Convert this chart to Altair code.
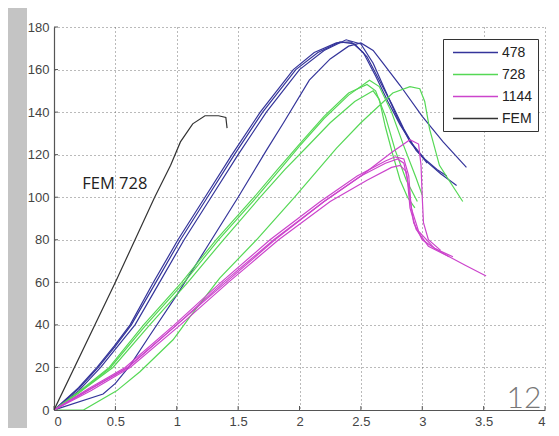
import altair as alt
import pandas as pd

# ---- data ----
b1_x = [0, 0.2, 0.36, 0.5, 0.63, 0.83, 1.03, 1.25, 1.47, 1.7, 1.97, 2.15, 2.33, 2.45, 2.55, 2.65, 2.75, 2.85, 2.95, 3.05, 3.15, 3.28]
b1_y = [0, 10, 20, 30, 40, 60, 80, 100, 120, 140, 160, 168, 173, 172, 166, 155, 144, 132, 122, 116, 111, 105.5]
b2_x = [0, 0.2, 0.38, 0.52, 0.66, 0.86, 1.06, 1.28, 1.5, 1.73, 2.0, 2.2, 2.38, 2.5, 2.6, 2.7, 2.8, 2.9, 3.04]
b2_y = [0, 9, 20, 30, 40, 60, 80, 100, 120, 140, 160, 169, 174, 172, 163, 150, 137, 126, 116]
b3_x = [0, 0.2, 0.35, 0.49, 0.62, 0.81, 1.01, 1.23, 1.45, 1.68, 1.95, 2.12, 2.3, 2.42, 2.52, 2.62, 2.72, 2.82, 2.92, 3.02, 3.12, 3.2]
b3_y = [0, 10.5, 20, 30, 40, 60, 80, 100, 120, 140, 160, 168, 172.5, 173, 168, 157, 145, 134, 125, 118, 113, 110]
b4_x = [0, 0.4, 0.5, 0.62, 0.78, 1.0, 1.24, 1.5, 1.73, 1.87, 2.08, 2.25, 2.4, 2.5, 2.6, 2.68, 2.82, 3.0, 3.17, 3.36]
b4_y = [0, 7.5, 12.5, 21, 35, 54, 76, 100, 122, 135, 155, 165, 171, 172.5, 169, 163, 152.5, 138, 126, 114]

g1_x = [0, 0.2, 0.46, 0.75, 1.06, 1.34, 1.65, 1.84, 2.0, 2.2, 2.4, 2.57, 2.65, 2.75, 2.85, 2.95, 3.0]
g1_y = [0, 8, 20, 40, 60, 80, 100, 113, 124, 137, 148, 155, 152, 140, 124, 109, 101]
g2_x = [0, 0.2, 0.45, 0.73, 1.04, 1.32, 1.63, 1.82, 2.0, 2.2, 2.4, 2.55, 2.62, 2.7, 2.78, 2.87, 2.96]
g2_y = [0, 8.5, 20, 40, 60, 80, 100, 113, 125, 138, 149, 153, 150, 138, 122, 108, 98]
g3_x = [0, 0.2, 0.48, 0.78, 1.09, 1.38, 1.68, 1.88, 2.05, 2.25, 2.45, 2.6, 2.65, 2.7, 2.76, 2.82, 2.88, 2.94]
g3_y = [0, 8, 20, 40, 60, 80, 100, 113, 123, 135, 145, 150, 146, 133, 120, 108, 100, 95]
g4_x = [0, 0.24, 0.51, 0.70, 0.97, 1.11, 1.35, 1.65, 1.96, 2.3, 2.5, 2.76, 2.9, 2.98, 3.02, 3.06, 3.14, 3.24, 3.33]
g4_y = [0, 0, 9, 18, 33, 44, 62, 80, 100, 123, 135, 149, 152, 151, 145, 132, 115, 106, 98]

m1_x = [0, 0.3, 0.6, 1.0, 1.38, 1.79, 2.2, 2.5, 2.7, 2.8, 2.85, 2.88, 2.9, 2.95, 3.05, 3.22, 3.35, 3.52]
m1_y = [0, 10, 20, 40, 60, 80, 98, 110, 116, 118, 116, 108, 95, 85, 77, 72, 68, 63]
m2_x = [0, 0.3, 0.62, 1.03, 1.42, 1.83, 2.25, 2.55, 2.75, 2.82, 2.87, 2.9, 2.93, 3.0, 3.1, 3.22]
m2_y = [0, 9, 20, 40, 60, 80, 98, 108, 114, 115, 112, 100, 88, 80, 76, 72]
m3_x = [0, 0.28, 0.58, 0.98, 1.36, 1.76, 2.17, 2.47, 2.7, 2.78, 2.85, 2.89, 2.91, 2.97, 3.1, 3.25]
m3_y = [0, 10, 20, 40, 60, 80, 98, 110, 117, 119, 118, 110, 95, 84, 76, 72]
m4_x = [0, 0.6, 1.0, 1.4, 1.8, 2.2, 2.5, 2.75, 2.9, 2.97, 2.99, 3.0, 3.01, 3.05, 3.15]
m4_y = [0, 20, 40, 60, 80, 98, 110, 121, 127, 125, 115, 100, 88, 80, 75]

fem_x = [0, 0.5, 0.82, 0.95, 1.03, 1.13, 1.23, 1.34, 1.40, 1.41]
fem_y = [0, 60, 100, 115, 126, 134.5, 138.3, 138.3, 137.5, 132.5]

series_names = ["478", "728", "1144", "FEM"]
series_colors = ["#34349a", "#55d855", "#cc44cc", "#333333"]

curves = [
    ("478", "b1", b1_x, b1_y), ("478", "b2", b2_x, b2_y),
    ("478", "b3", b3_x, b3_y), ("478", "b4", b4_x, b4_y),
    ("728", "g1", g1_x, g1_y), ("728", "g2", g2_x, g2_y),
    ("728", "g3", g3_x, g3_y), ("728", "g4", g4_x, g4_y),
    ("1144", "m1", m1_x, m1_y), ("1144", "m2", m2_x, m2_y),
    ("1144", "m3", m3_x, m3_y), ("1144", "m4", m4_x, m4_y),
    ("FEM", "fem", fem_x, fem_y),
]

rows = []
for grp, cid, xs_, ys_ in curves:
    for i, (x, y) in enumerate(zip(xs_, ys_)):
        rows.append({"series": grp, "curve": cid, "i": i, "x": x, "y": y})
df = pd.DataFrame(rows)

x_ticks = [0, 0.5, 1, 1.5, 2, 2.5, 3, 3.5, 4]
y_ticks = [0, 20, 40, 60, 80, 100, 120, 140, 160, 180]

xs = alt.Scale(domain=[0, 4], nice=False)
ys = alt.Scale(domain=[0, 180], nice=False)

# grey slide strip at the left edge (decoration outside the axes)
strip = alt.Chart(pd.DataFrame({"a": [0]})).mark_rect(color="#c4c4c4").encode(
    x=alt.value(-60), x2=alt.value(-27), y=alt.value(-40), y2=alt.value(430)
)

# inward tick marks (MATLAB style)
xt = alt.Chart(pd.DataFrame({"v": x_ticks})).mark_rule(color="#555", strokeWidth=1).encode(
    x=alt.X("v:Q", scale=xs), y=alt.value(383), y2=alt.value(379))
yt = alt.Chart(pd.DataFrame({"v": y_ticks})).mark_rule(color="#555", strokeWidth=1).encode(
    y=alt.Y("v:Q", scale=ys), x=alt.value(0), x2=alt.value(4))

lines = alt.Chart(df).mark_line(strokeWidth=1.2, clip=True).encode(
    x=alt.X("x:Q", scale=xs,
            axis=alt.Axis(values=x_ticks, format="~g", title=None, grid=True)),
    y=alt.Y("y:Q", scale=ys,
            axis=alt.Axis(values=y_ticks, title=None, grid=True)),
    color=alt.Color("series:N",
                    scale=alt.Scale(domain=series_names, range=series_colors),
                    legend=alt.Legend(title=None, orient="none", legendX=389, legendY=12,
                                      strokeColor="#333", fillColor="white", padding=5,
                                      symbolType="M-3,0H3", symbolSize=225,
                                      symbolOffset=19, symbolStrokeWidth=1.5,
                                      labelFontSize=14, labelFont="Liberation Sans",
                                      labelColor="#222", labelOffset=18, rowPadding=6)),
    detail="curve:N",
    order="i:Q",
)

ann = pd.DataFrame({"x": [0.23], "y": [106], "t": ["FEM 728"]})
fem_label = alt.Chart(ann).mark_text(align="left", baseline="middle", font="Open Sans",
                                     fontSize=16.5, color="#222").encode(
    x=alt.X("x:Q", scale=xs), y=alt.Y("y:Q", scale=ys), text="t:N")

slide = pd.DataFrame({"x": [3.97], "y": [1.0], "t": ["12"]})
slide_label = alt.Chart(slide).mark_text(align="right", baseline="alphabetic", font="Lato",
                                         fontWeight=300, fontSize=30, color="#777").encode(
    x=alt.X("x:Q", scale=xs), y=alt.Y("y:Q", scale=ys), text="t:N")

chart = alt.layer(strip, xt, yt, lines, fem_label, slide_label).properties(
    width=491, height=383,
    autosize=alt.AutoSizeParams(type="none"),
    padding={"left": 46, "top": 19, "right": 6, "bottom": 18},
    background="white",
).configure_view(stroke=None).configure_axis(
    domainColor="#555", domainWidth=1.2, labelColor="#444", labelFont="Liberation Sans",
    labelFontSize=13, ticks=False, labelPadding=5,
    gridColor="#666", gridDash=[1, 3], gridWidth=1, gridOpacity=0.9,
)

chart.save("out.html", embed_options={"renderer": "svg", "actions": False})
